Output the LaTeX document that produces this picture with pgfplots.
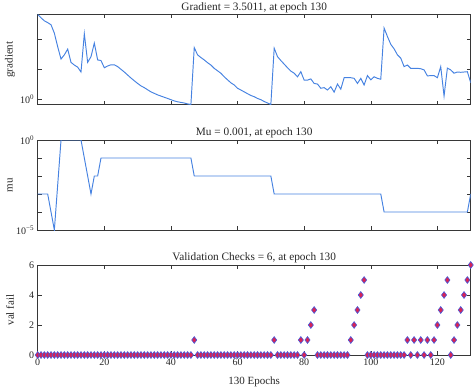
\documentclass[border=0pt]{standalone}
\usepackage{fontspec}
\setmainfont{Liberation Serif}
\usepackage{pgfplots}
\usepackage{pgfplotstable}
\pgfplotsset{compat=1.18}
\definecolor{mblue}{RGB}{70,130,225}
\definecolor{mred}{RGB}{215,35,85}
\definecolor{medge}{RGB}{70,90,220}
\definecolor{axgray}{RGB}{55,55,55}

\pgfplotstableread{
e g
0 646
1 501
2 398
3 347
4 295
5 155
6 55.0
7 21.4
8 29.5
9 45.7
10 16.6
11 13.5
12 11.5
13 7.94
14 148
15 16.6
16 25.7
17 72.4
18 20.0
19 19.1
20 11.0
21 12.6
22 13.8
23 13.8
24 12.0
25 9.77
26 7.94
27 6.31
28 5.01
29 4.07
30 3.31
31 2.75
32 2.40
33 2.04
34 1.74
35 1.55
36 1.38
37 1.26
38 1.15
39 1.05
40 0.955
41 0.871
42 0.813
43 0.776
44 0.741
45 0.692
46 0.661
47 51.3
48 29.5
49 24.0
50 20.0
51 16.2
52 13.5
53 10.5
54 8.71
55 7.24
56 5.50
57 4.37
58 3.47
59 2.95
60 2.29
61 2.00
62 1.74
63 1.51
64 1.32
65 1.20
66 1.05
67 0.955
68 0.832
69 0.741
70 0.661
71 49.0
72 25.7
73 19.1
74 14.5
75 11.0
76 8.51
77 7.24
78 5.50
79 8.13
80 4.27
81 4.27
82 4.68
83 3.31
84 3.16
85 2.29
86 2.40
87 2.00
88 2.57
89 1.70
90 3.16
91 2.14
92 5.13
93 5.13
94 5.13
95 4.90
96 3.31
97 4.90
98 2.95
99 6.03
100 4.37
101 5.50
102 4.90
103 4.57
104 229
105 120
106 66.1
107 46.8
108 29.5
109 22.9
110 12.0
111 13.5
112 10.5
113 10.5
114 10.5
115 10.2
116 9.33
117 5.89
118 6.03
119 6.03
120 5.13
121 12.0
122 1.26
123 10.7
124 9.33
125 7.24
126 7.94
127 7.76
128 7.94
129 8.13
130 3.5011
}\gradtable

\pgfplotstableread{
e mu
0 1e-3
3 1e-3
5 1e-5
7 1
13 1
16 1e-3
17 1e-2
18 1e-2
19 1e-1
46 1e-1
47 1e-2
70 1e-2
71 1e-3
103 1e-3
104 1e-4
129 1e-4
130 1e-3
}\mutable

\pgfplotstableread{
e v
0 0
1 0
2 0
3 0
4 0
5 0
6 0
7 0
8 0
9 0
10 0
11 0
12 0
13 0
14 0
15 0
16 0
17 0
18 0
19 0
20 0
21 0
22 0
23 0
24 0
25 0
26 0
27 0
28 0
29 0
30 0
31 0
32 0
33 0
34 0
35 0
36 0
37 0
38 0
39 0
40 0
41 0
42 0
43 0
44 0
45 0
46 0
47 1
48 0
49 0
50 0
51 0
52 0
53 0
54 0
55 0
56 0
57 0
58 0
59 0
60 0
61 0
62 0
63 0
64 0
65 0
66 0
67 0
68 0
69 0
70 0
71 1
72 0
73 0
74 0
75 0
76 0
77 0
78 0
79 1
80 0
81 1
82 2
83 3
84 0
85 0
86 0
87 0
88 0
89 0
90 0
91 0
92 0
93 0
94 1
95 2
96 3
97 4
98 5
99 0
100 0
101 0
102 0
103 0
104 0
105 0
106 0
107 0
108 0
109 0
110 0
111 1
112 0
113 1
114 0
115 1
116 0
117 1
118 0
119 1
120 2
121 3
122 4
123 5
124 0
125 1
126 2
127 3
128 4
129 5
130 6
}\valtable

\pgfplotsset{
  every axis title shift=0pt,
  mystyle/.style={
    scale only axis, width=433pt, height=90pt,
    anchor=north west,
    xmin=0, xmax=130,
    xtick={0,20,...,120},
    tick align=inside,
    major tick length=4pt,
    axis line style={axgray, line width=0.6pt},
    every tick/.style={axgray, line width=0.5pt},
    tick label style={font=\fontsize{10}{12}\selectfont, text=black!85},
    label style={font=\fontsize{11}{13}\selectfont, text=black!85},
    title style={font=\fontsize{11.3}{13}\selectfont, text=black!85, at={(axis description cs:0.5,1)}, anchor=base, yshift=4.5pt},
    ylabel style={at={(axis description cs:-0.064,0.5)}, anchor=center},
    /pgf/number format/assume math mode=true,
  }
}

\begin{document}
\begin{tikzpicture}
\path[use as bounding box] (0,0) rectangle (474pt,-389pt);

\begin{axis}[mystyle, at={(37.7pt,-14.5pt)},
  ymode=log, ymin=0.661, ymax=646, ytick={1,10,100},
  yticklabels={10\textsuperscript{0},,}, yminorticks=false,
  xticklabels={}, ylabel={gradient},
  title={Gradient = 3.5011, at epoch 130}]
\addplot[mblue, line width=0.95pt] table[x=e, y=g] {\gradtable};
\end{axis}

\begin{axis}[mystyle, at={(37.7pt,-140pt)},
  ymode=log, ymin=1e-5, ymax=1, ytick={1e-5,1e-4,1e-3,1e-2,1e-1,1},
  yticklabels={10\textsuperscript{−5},,,,,10\textsuperscript{0}}, yminorticks=false,
  xticklabels={}, ylabel={mu},
  title={Mu = 0.001, at epoch 130}]
\addplot[mblue, line width=0.95pt] table[x=e, y=mu] {\mutable};
\end{axis}

\begin{axis}[mystyle, at={(37.7pt,-265pt)},
  ymin=0, ymax=6, ytick={0,2,4,6}, clip=false,
  ylabel={val fail}, xlabel={130 Epochs},
  xlabel style={at={(axis description cs:0.5,0)}, anchor=base, yshift=-29pt},
  title={Validation Checks = 6, at epoch 130}]
\addplot[only marks, mark=diamond*, mark size=3.4pt,
  mark options={fill=mred, draw=medge, line width=0.6pt}]
  table[x=e, y=v] {\valtable};
\end{axis}
\end{tikzpicture}
\end{document}
